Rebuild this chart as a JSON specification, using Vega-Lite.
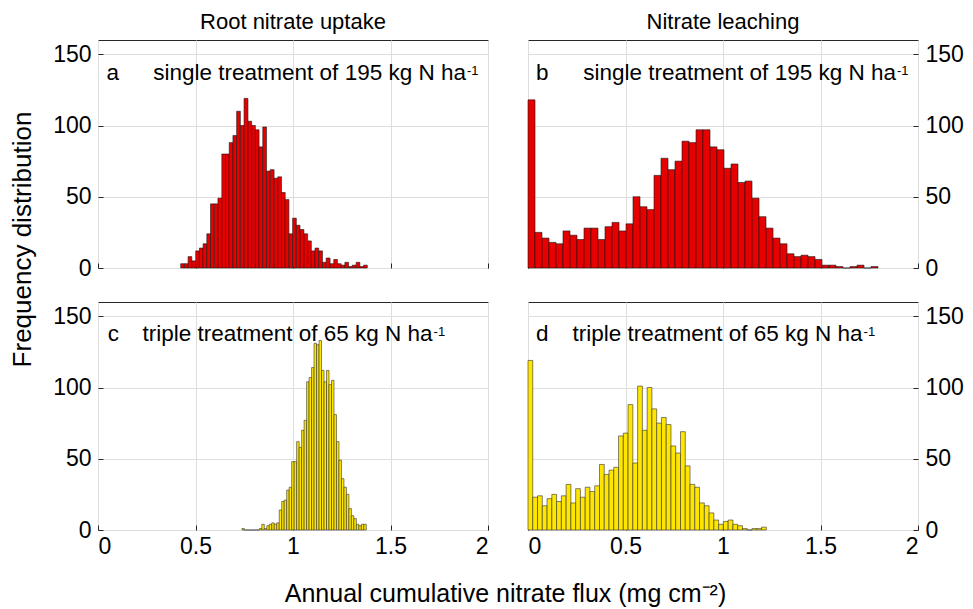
{
  "$schema": "https://vega.github.io/schema/vega-lite/v6.json",
  "padding": {"left": 8, "top": 10, "right": 5, "bottom": 2},
  "autosize": {"type": "pad"},
  "bounds": "flush",
  "columns": 2,
  "spacing": {"row": 34, "column": 40},
  "datasets": {
    "a": [
      {"lo":0.424,"hi":0.443,"n":3},{"lo":0.443,"hi":0.462,"n":3},{"lo":0.462,"hi":0.481,"n":8},{"lo":0.481,"hi":0.501,"n":5},{"lo":0.501,"hi":0.520,"n":12},
      {"lo":0.520,"hi":0.539,"n":14},{"lo":0.539,"hi":0.558,"n":17},{"lo":0.558,"hi":0.577,"n":24},{"lo":0.577,"hi":0.596,"n":45},{"lo":0.596,"hi":0.615,"n":45},
      {"lo":0.615,"hi":0.635,"n":49},{"lo":0.635,"hi":0.654,"n":80},{"lo":0.654,"hi":0.673,"n":80},{"lo":0.673,"hi":0.692,"n":88},{"lo":0.692,"hi":0.711,"n":93},
      {"lo":0.711,"hi":0.730,"n":110},{"lo":0.730,"hi":0.749,"n":100},{"lo":0.749,"hi":0.769,"n":119},{"lo":0.769,"hi":0.788,"n":103},{"lo":0.788,"hi":0.807,"n":100},
      {"lo":0.807,"hi":0.826,"n":97},{"lo":0.826,"hi":0.845,"n":85},{"lo":0.845,"hi":0.864,"n":99},{"lo":0.864,"hi":0.883,"n":68},{"lo":0.883,"hi":0.903,"n":69},
      {"lo":0.903,"hi":0.922,"n":63},{"lo":0.922,"hi":0.941,"n":64},{"lo":0.941,"hi":0.960,"n":53},{"lo":0.960,"hi":0.979,"n":48},{"lo":0.979,"hi":0.998,"n":24},
      {"lo":0.998,"hi":1.017,"n":35},{"lo":1.017,"hi":1.036,"n":30},{"lo":1.036,"hi":1.056,"n":27},{"lo":1.056,"hi":1.075,"n":24},{"lo":1.075,"hi":1.094,"n":19},
      {"lo":1.094,"hi":1.113,"n":12},{"lo":1.113,"hi":1.132,"n":14},{"lo":1.132,"hi":1.151,"n":12},{"lo":1.151,"hi":1.170,"n":4},{"lo":1.170,"hi":1.190,"n":7},
      {"lo":1.190,"hi":1.209,"n":3},{"lo":1.209,"hi":1.228,"n":6},{"lo":1.228,"hi":1.247,"n":3},{"lo":1.247,"hi":1.266,"n":2},{"lo":1.266,"hi":1.285,"n":4},
      {"lo":1.285,"hi":1.304,"n":1},{"lo":1.304,"hi":1.324,"n":2},{"lo":1.324,"hi":1.343,"n":4},{"lo":1.343,"hi":1.362,"n":1},{"lo":1.362,"hi":1.381,"n":2}
    ],
    "b": [
      {"lo":0,"hi":0.0359,"n":118},{"lo":0.0359,"hi":0.0718,"n":25},{"lo":0.0718,"hi":0.1077,"n":21},{"lo":0.1077,"hi":0.1436,"n":18},{"lo":0.1436,"hi":0.1795,"n":17},
      {"lo":0.1795,"hi":0.2154,"n":26},{"lo":0.2154,"hi":0.2513,"n":23},{"lo":0.2513,"hi":0.2872,"n":20},{"lo":0.2872,"hi":0.3231,"n":28},{"lo":0.3231,"hi":0.359,"n":28},
      {"lo":0.359,"hi":0.3949,"n":20},{"lo":0.3949,"hi":0.4308,"n":29},{"lo":0.4308,"hi":0.4667,"n":32},{"lo":0.4667,"hi":0.5026,"n":26},{"lo":0.5026,"hi":0.5385,"n":31},
      {"lo":0.5385,"hi":0.5744,"n":50},{"lo":0.5744,"hi":0.6103,"n":43},{"lo":0.6103,"hi":0.6462,"n":41},{"lo":0.6462,"hi":0.6821,"n":65},{"lo":0.6821,"hi":0.718,"n":77},
      {"lo":0.718,"hi":0.7539,"n":69},{"lo":0.7539,"hi":0.7898,"n":75},{"lo":0.7898,"hi":0.8257,"n":89},{"lo":0.8257,"hi":0.8616,"n":88},{"lo":0.8616,"hi":0.8975,"n":97},
      {"lo":0.8975,"hi":0.9334,"n":97},{"lo":0.9334,"hi":0.9693,"n":85},{"lo":0.9693,"hi":1.0052,"n":83},{"lo":1.0052,"hi":1.0411,"n":70},{"lo":1.0411,"hi":1.077,"n":73},
      {"lo":1.077,"hi":1.1129,"n":60},{"lo":1.1129,"hi":1.1488,"n":61},{"lo":1.1488,"hi":1.1847,"n":49},{"lo":1.1847,"hi":1.2206,"n":36},{"lo":1.2206,"hi":1.2565,"n":28},
      {"lo":1.2565,"hi":1.2924,"n":21},{"lo":1.2924,"hi":1.3283,"n":17},{"lo":1.3283,"hi":1.3642,"n":10},{"lo":1.3642,"hi":1.4001,"n":8},{"lo":1.4001,"hi":1.436,"n":9},
      {"lo":1.436,"hi":1.4719,"n":8},{"lo":1.4719,"hi":1.5078,"n":6},{"lo":1.5078,"hi":1.5437,"n":2},{"lo":1.5437,"hi":1.5796,"n":2},{"lo":1.5796,"hi":1.6155,"n":1},
      {"lo":1.6155,"hi":1.6514,"n":0},{"lo":1.6514,"hi":1.6873,"n":1},{"lo":1.6873,"hi":1.7232,"n":2},{"lo":1.7232,"hi":1.7591,"n":0},{"lo":1.7591,"hi":1.795,"n":1}
    ],
    "c": [
      {"lo":0.738,"hi":0.7508,"n":1},{"lo":0.7508,"hi":0.7635,"n":0},{"lo":0.7635,"hi":0.7763,"n":0},{"lo":0.7763,"hi":0.789,"n":0},{"lo":0.789,"hi":0.8018,"n":0},
      {"lo":0.8018,"hi":0.8146,"n":0},{"lo":0.8146,"hi":0.8273,"n":0},{"lo":0.8273,"hi":0.8401,"n":1},{"lo":0.8401,"hi":0.8528,"n":4},{"lo":0.8528,"hi":0.8656,"n":1},
      {"lo":0.8656,"hi":0.8784,"n":3},{"lo":0.8784,"hi":0.8911,"n":4},{"lo":0.8911,"hi":0.9039,"n":5},{"lo":0.9039,"hi":0.9166,"n":4},{"lo":0.9166,"hi":0.9294,"n":5},
      {"lo":0.9294,"hi":0.9422,"n":14},{"lo":0.9422,"hi":0.9549,"n":20},{"lo":0.9549,"hi":0.9677,"n":21},{"lo":0.9677,"hi":0.9804,"n":28},{"lo":0.9804,"hi":0.9932,"n":30},
      {"lo":0.9932,"hi":1.006,"n":48},{"lo":1.006,"hi":1.0187,"n":48},{"lo":1.0187,"hi":1.0315,"n":62},{"lo":1.0315,"hi":1.0442,"n":58},{"lo":1.0442,"hi":1.057,"n":70},
      {"lo":1.057,"hi":1.0698,"n":77},{"lo":1.0698,"hi":1.0825,"n":104},{"lo":1.0825,"hi":1.0953,"n":107},{"lo":1.0953,"hi":1.108,"n":114},{"lo":1.108,"hi":1.1208,"n":131},
      {"lo":1.1208,"hi":1.1336,"n":130},{"lo":1.1336,"hi":1.1463,"n":133},{"lo":1.1463,"hi":1.1591,"n":112},{"lo":1.1591,"hi":1.1718,"n":104},{"lo":1.1718,"hi":1.1846,"n":112},
      {"lo":1.1846,"hi":1.1974,"n":102},{"lo":1.1974,"hi":1.2101,"n":105},{"lo":1.2101,"hi":1.2229,"n":81},{"lo":1.2229,"hi":1.2356,"n":62},{"lo":1.2356,"hi":1.2484,"n":49},
      {"lo":1.2484,"hi":1.2612,"n":36},{"lo":1.2612,"hi":1.2739,"n":30},{"lo":1.2739,"hi":1.2867,"n":25},{"lo":1.2867,"hi":1.2994,"n":15},{"lo":1.2994,"hi":1.3122,"n":10},
      {"lo":1.3122,"hi":1.325,"n":8},{"lo":1.325,"hi":1.3377,"n":4},{"lo":1.3377,"hi":1.3505,"n":3},{"lo":1.3505,"hi":1.3632,"n":4},{"lo":1.3632,"hi":1.376,"n":4}
    ],
    "d": [
      {"lo":0,"hi":0.0244,"n":119},{"lo":0.0244,"hi":0.0489,"n":23},{"lo":0.0489,"hi":0.0733,"n":24},{"lo":0.0733,"hi":0.0978,"n":17},{"lo":0.0978,"hi":0.1222,"n":22},
      {"lo":0.1222,"hi":0.1466,"n":25},{"lo":0.1466,"hi":0.1711,"n":20},{"lo":0.1711,"hi":0.1955,"n":24},{"lo":0.1955,"hi":0.22,"n":32},{"lo":0.22,"hi":0.2444,"n":19},
      {"lo":0.2444,"hi":0.2688,"n":29},{"lo":0.2688,"hi":0.2933,"n":23},{"lo":0.2933,"hi":0.3177,"n":30},{"lo":0.3177,"hi":0.3422,"n":27},{"lo":0.3422,"hi":0.3666,"n":31},
      {"lo":0.3666,"hi":0.391,"n":46},{"lo":0.391,"hi":0.4155,"n":39},{"lo":0.4155,"hi":0.4399,"n":42},{"lo":0.4399,"hi":0.4644,"n":44},{"lo":0.4644,"hi":0.4888,"n":66},
      {"lo":0.4888,"hi":0.5132,"n":68},{"lo":0.5132,"hi":0.5377,"n":88},{"lo":0.5377,"hi":0.5621,"n":47},{"lo":0.5621,"hi":0.5866,"n":101},{"lo":0.5866,"hi":0.611,"n":70},
      {"lo":0.611,"hi":0.6354,"n":100},{"lo":0.6354,"hi":0.6599,"n":85},{"lo":0.6599,"hi":0.6843,"n":75},{"lo":0.6843,"hi":0.7088,"n":79},{"lo":0.7088,"hi":0.7332,"n":74},
      {"lo":0.7332,"hi":0.7576,"n":59},{"lo":0.7576,"hi":0.7821,"n":54},{"lo":0.7821,"hi":0.8065,"n":69},{"lo":0.8065,"hi":0.831,"n":45},{"lo":0.831,"hi":0.8554,"n":32},
      {"lo":0.8554,"hi":0.8798,"n":30},{"lo":0.8798,"hi":0.9043,"n":19},{"lo":0.9043,"hi":0.9287,"n":17},{"lo":0.9287,"hi":0.9532,"n":12},{"lo":0.9532,"hi":0.9776,"n":7},
      {"lo":0.9776,"hi":1.002,"n":4},{"lo":1.002,"hi":1.0265,"n":6},{"lo":1.0265,"hi":1.0509,"n":7},{"lo":1.0509,"hi":1.0754,"n":4},{"lo":1.0754,"hi":1.0998,"n":3},
      {"lo":1.0998,"hi":1.1242,"n":1},{"lo":1.1242,"hi":1.1487,"n":0},{"lo":1.1487,"hi":1.1731,"n":1},{"lo":1.1731,"hi":1.1976,"n":1},{"lo":1.1976,"hi":1.222,"n":2}
    ]
  },
  "concat": [
    {
      "width": 390, "height": 228,
      "title": {"text": "Root nitrate uptake"},
      "layer": [
        {
          "data": {"name": "a"},
          "mark": {"type": "rect", "color": "#e60000", "stroke": "#1a1a1a", "strokeWidth": 0.6},
          "encoding": {
            "x": {"field": "lo", "type": "quantitative", "scale": {"domain": [0, 2]}, "axis": {"values": [0, 0.5, 1, 1.5, 2], "labels": false, "title": null}},
            "x2": {"field": "hi"},
            "y": {"field": "n", "type": "quantitative", "scale": {"domain": [0, 150]}, "axis": {"values": [0, 50, 100, 150], "labelPadding": 12, "title": "Frequency distribution", "titleX": -68, "titleY": 199, "titleAngle": -90, "titleAlign": "center", "titleBaseline": "alphabetic", "titleFontSize": 26}},
            "y2": {"datum": 0}
          }
        },
        {"data": {"values": [{}]}, "mark": {"type": "text", "text": "a", "align": "left", "baseline": "alphabetic", "fontSize": 22.5}, "encoding": {"x": {"datum": 0.043, "type": "quantitative"}, "y": {"datum": 132.2, "type": "quantitative"}}},
        {"data": {"values": [{}]}, "mark": {"type": "text", "text": "single treatment of 195 kg N ha", "align": "right", "baseline": "alphabetic", "fontSize": 22.5}, "encoding": {"x": {"datum": 1.887, "type": "quantitative"}, "y": {"datum": 132.2, "type": "quantitative"}}},
        {"data": {"values": [{}]}, "mark": {"type": "text", "text": "-1", "align": "left", "baseline": "alphabetic", "fontSize": 13, "dx": 1}, "encoding": {"x": {"datum": 1.887, "type": "quantitative"}, "y": {"datum": 135.5, "type": "quantitative"}}}
      ]
    },
    {
      "width": 390, "height": 228,
      "title": {"text": "Nitrate leaching"},
      "layer": [
        {
          "data": {"name": "b"},
          "mark": {"type": "rect", "color": "#e60000", "stroke": "#1a1a1a", "strokeWidth": 0.6},
          "encoding": {
            "x": {"field": "lo", "type": "quantitative", "scale": {"domain": [0, 2]}, "axis": {"values": [0, 0.5, 1, 1.5, 2], "labels": false, "title": null}},
            "x2": {"field": "hi"},
            "y": {"field": "n", "type": "quantitative", "scale": {"domain": [0, 150]}, "axis": {"orient": "right", "values": [0, 50, 100, 150], "title": null, "labelPadding": 12}},
            "y2": {"datum": 0}
          }
        },
        {"data": {"values": [{}]}, "mark": {"type": "text", "text": "b", "align": "left", "baseline": "alphabetic", "fontSize": 22.5}, "encoding": {"x": {"datum": 0.041, "type": "quantitative"}, "y": {"datum": 132.2, "type": "quantitative"}}},
        {"data": {"values": [{}]}, "mark": {"type": "text", "text": "single treatment of 195 kg N ha", "align": "right", "baseline": "alphabetic", "fontSize": 22.5}, "encoding": {"x": {"datum": 1.887, "type": "quantitative"}, "y": {"datum": 132.2, "type": "quantitative"}}},
        {"data": {"values": [{}]}, "mark": {"type": "text", "text": "-1", "align": "left", "baseline": "alphabetic", "fontSize": 13, "dx": 1}, "encoding": {"x": {"datum": 1.887, "type": "quantitative"}, "y": {"datum": 135.5, "type": "quantitative"}}}
      ]
    },
    {
      "width": 390, "height": 228,
      "layer": [
        {
          "data": {"name": "c"},
          "mark": {"type": "rect", "color": "#ffe600", "stroke": "#333333", "strokeWidth": 0.6},
          "encoding": {
            "x": {"field": "lo", "type": "quantitative", "scale": {"domain": [0, 2]}, "axis": {"values": [0, 0.5, 1, 1.5, 2], "format": "~g", "title": "Annual cumulative nitrate flux (mg cm⁻²)", "titleX": 407, "titleY": 71, "titleAlign": "center", "titleBaseline": "alphabetic", "titleFontSize": 25}},
            "x2": {"field": "hi"},
            "y": {"field": "n", "type": "quantitative", "scale": {"domain": [0, 150]}, "axis": {"values": [0, 50, 100, 150], "labelPadding": 12, "title": null}},
            "y2": {"datum": 0}
          }
        },
        {"data": {"values": [{}]}, "mark": {"type": "text", "text": "c", "align": "left", "baseline": "alphabetic", "fontSize": 22.5}, "encoding": {"x": {"datum": 0.05, "type": "quantitative"}, "y": {"datum": 132.5, "type": "quantitative"}}},
        {"data": {"values": [{}]}, "mark": {"type": "text", "text": "triple treatment of 65 kg N ha", "align": "right", "baseline": "alphabetic", "fontSize": 22.5}, "encoding": {"x": {"datum": 1.716, "type": "quantitative"}, "y": {"datum": 132.5, "type": "quantitative"}}},
        {"data": {"values": [{}]}, "mark": {"type": "text", "text": "-1", "align": "left", "baseline": "alphabetic", "fontSize": 13, "dx": 1}, "encoding": {"x": {"datum": 1.716, "type": "quantitative"}, "y": {"datum": 136, "type": "quantitative"}}}
      ]
    },
    {
      "width": 390, "height": 228,
      "layer": [
        {
          "data": {"name": "d"},
          "mark": {"type": "rect", "color": "#ffe600", "stroke": "#333333", "strokeWidth": 0.6},
          "encoding": {
            "x": {"field": "lo", "type": "quantitative", "scale": {"domain": [0, 2]}, "axis": {"values": [0, 0.5, 1, 1.5, 2], "format": "~g", "title": null}},
            "x2": {"field": "hi"},
            "y": {"field": "n", "type": "quantitative", "scale": {"domain": [0, 150]}, "axis": {"orient": "right", "values": [0, 50, 100, 150], "title": null, "labelPadding": 12}},
            "y2": {"datum": 0}
          }
        },
        {"data": {"values": [{}]}, "mark": {"type": "text", "text": "d", "align": "left", "baseline": "alphabetic", "fontSize": 22.5}, "encoding": {"x": {"datum": 0.041, "type": "quantitative"}, "y": {"datum": 132.5, "type": "quantitative"}}},
        {"data": {"values": [{}]}, "mark": {"type": "text", "text": "triple treatment of 65 kg N ha", "align": "right", "baseline": "alphabetic", "fontSize": 22.5}, "encoding": {"x": {"datum": 1.716, "type": "quantitative"}, "y": {"datum": 132.5, "type": "quantitative"}}},
        {"data": {"values": [{}]}, "mark": {"type": "text", "text": "-1", "align": "left", "baseline": "alphabetic", "fontSize": 13, "dx": 1}, "encoding": {"x": {"datum": 1.716, "type": "quantitative"}, "y": {"datum": 136, "type": "quantitative"}}}
      ]
    }
  ],
  "config": {
    "font": "Liberation Sans",
    "view": {"stroke": "#262626", "strokeWidth": 1},
    "text": {"color": "#000000", "font": "Liberation Sans"},
    "title": {"fontSize": 22, "fontWeight": "normal", "color": "#000000", "offset": 6, "anchor": "middle", "font": "Liberation Sans"},
    "axis": {
      "grid": true, "gridColor": "#dedede", "gridWidth": 1,
      "domain": false,
      "ticks": true, "tickSize": -5, "tickColor": "#262626", "tickWidth": 1,
      "labelFontSize": 23, "labelColor": "#000000", "labelFont": "Liberation Sans", "labelPadding": 10,
      "titleFont": "Liberation Sans", "titleFontWeight": "normal", "titleColor": "#000000"
    }
  }
}
